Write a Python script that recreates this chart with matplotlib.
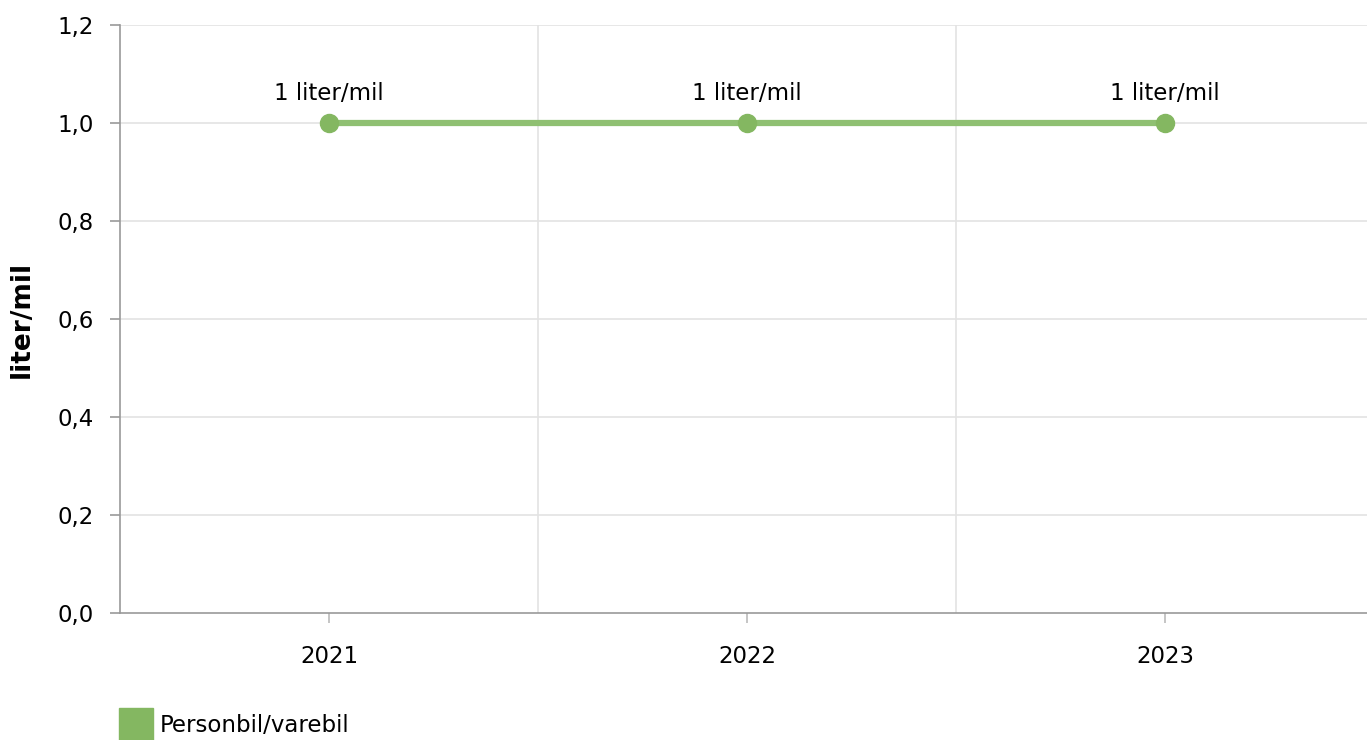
import matplotlib
matplotlib.use("Agg")
import matplotlib.pyplot as plt
from matplotlib.patches import Rectangle

years = ["2021", "2022", "2023"]
values = [1.0, 1.0, 1.0]
labels = ["1 liter/mil", "1 liter/mil", "1 liter/mil"]
yticks = [0.0, 0.2, 0.4, 0.6, 0.8, 1.0, 1.2]
series_name = "Personbil/varebil"

plt.rcParams['font.family'] = ['DejaVu Sans']
fig = plt.figure(figsize=(13.67, 7.40), dpi=100)
W, H = 1367, 740
ax = fig.add_axes([120 / W, 1 - 613 / H, (1367 - 120) / W, (613 - 25) / H])

fs = 16.5
x = list(range(len(years)))
ax.plot(x, values, color="#8fc072", lw=4.5, solid_capstyle="butt", zorder=3)
ax.plot(x, values, "o", color="#84b761", ms=13, zorder=4)
for xi, v, lab in zip(x, values, labels):
    ax.annotate(lab, (xi, v), xytext=(0, 13), textcoords="offset points",
                ha="center", va="bottom", fontsize=fs, color="black")

ax.set_xlim(-0.5, -0.5 + (1367 - 120) / 418)
ax.set_ylim(0, 1.2)
ax.set_yticks(yticks)
ax.set_yticklabels([f"{t:.1f}".replace(".", ",") for t in yticks], fontsize=fs)
ax.set_xticks(x)
ax.set_xticklabels(years, fontsize=fs)
ax.tick_params(axis="y", length=7, color="#999999", width=1.2, pad=12)
ax.tick_params(axis="x", length=7, color="#bbbbbb", width=1.2, pad=16)

for t in yticks[1:]:
    ax.axhline(t, color="#e3e3e3", lw=1.2, zorder=1)
for b in [0.5, 1.5]:
    ax.axvline(b, color="#e3e3e3", lw=1.2, zorder=1)

for s in ["top", "right"]:
    ax.spines[s].set_visible(False)
ax.spines["left"].set_color("#999999")
ax.spines["bottom"].set_color("#999999")
ax.spines["left"].set_linewidth(1.2)
ax.spines["bottom"].set_linewidth(1.2)

fig.text(22 / W, 1 - 319 / H, "liter/mil", rotation=90, ha="center", va="center",
         fontsize=19, fontweight="bold")

fig.patches.append(Rectangle((119 / W, 0), 34 / W, 32 / H, transform=fig.transFigure,
                             color="#84b761", figure=fig))
fig.text(160 / W, 1 - 726 / H, series_name, ha="left", va="center", fontsize=fs)

fig.savefig("out.png", dpi=100)
